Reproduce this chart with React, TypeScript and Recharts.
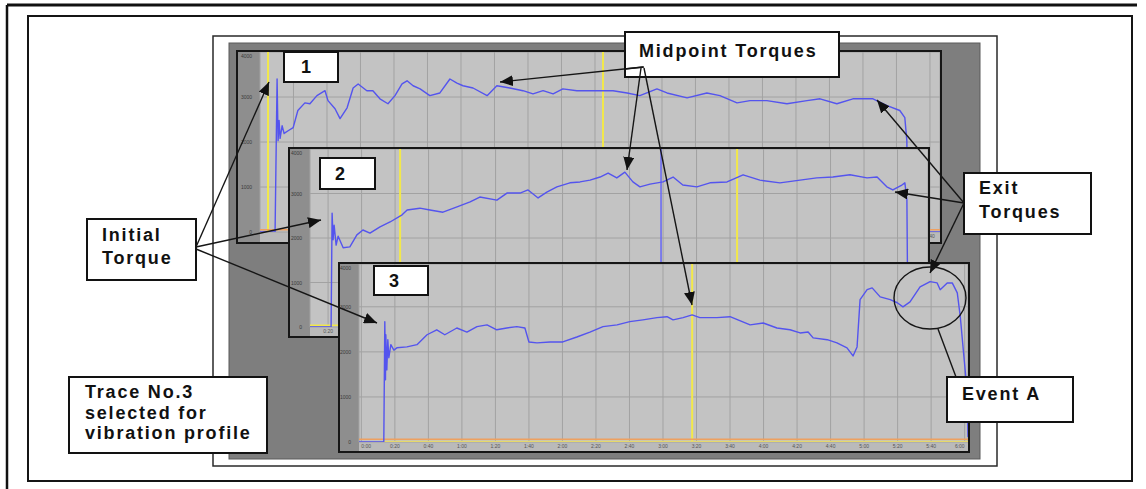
import React from "react";
import { LineChart, Line, XAxis, YAxis, CartesianGrid, ReferenceLine } from "recharts";

// trace 1: time in grid steps (1 step = 20 s), torque in Nm
const trace1Time = [
  0, 0.45, 0.51, 0.54, 0.57, 0.6, 0.66, 0.72, 0.84, 0.99, 1.13, 1.34, 1.49, 1.7, 1.94, 2.03, 2.24, 2.39, 2.6, 2.78,
  2.93, 3.19, 3.37, 3.58, 3.82, 4.03, 4.24, 4.39, 4.57, 4.78, 5.07, 5.37, 5.67, 5.88, 6.06, 6.36, 6.78, 7.07, 7.46, 7.85,
  8.15, 8.45, 8.75, 9.04, 9.46, 9.94, 10.54, 10.96, 11.34, 11.85, 12.15, 12.75, 13.34, 13.73, 14.24, 14.63, 15.13, 15.73,
  16.33, 16.72, 17.22, 17.7, 18.3, 18.72, 19.1, 19.25, 19.31, 19.34, 20.3,
];
const trace1Torque = [
  0, 0, 3400, 2030, 2480, 2080, 2360, 2190, 2250, 2320, 2700, 2870, 2850, 3030, 3140, 2920, 2740, 2520, 2760, 3200,
  3290, 3140, 3140, 2960, 2850, 3030, 3290, 3360, 3250, 3180, 3030, 3090, 3400, 3310, 3250, 3200, 3030, 3250, 3200, 3140,
  3070, 3140, 3070, 3180, 3140, 3140, 3140, 3090, 3030, 3180, 3090, 2980, 3090, 3030, 2870, 2920, 2920, 2850,
  2920, 2960, 2850, 2960, 2960, 2810, 2700, 2540, 2030, 0, 0,
];

const trace2Time = [
  0.46, 1.09, 1.12, 1.15, 1.18, 1.24, 1.3, 1.45, 1.65, 1.86, 2.04, 2.25, 2.55, 2.85, 3.21, 3.36, 3.74, 4.04, 4.43, 4.85,
  5.24, 5.53, 6.04, 6.34, 6.73, 6.97, 7.27, 7.53, 7.83, 8.22, 8.52, 8.82, 9.12, 9.36, 9.62, 9.86, 10.1, 10.31, 10.61, 11.0,
  11.3, 11.59, 12.01, 12.4, 12.91, 13.39, 13.89, 14.49, 15.09, 15.59, 16.07, 16.58, 17.09, 17.39, 17.68, 17.86, 18.13,
  18.22, 18.28, 18.31, 18.91,
];
const trace2Torque = [
  0, 0, 2560, 1960, 2290, 1840, 2040, 1780, 1800, 2070, 2180, 2110, 2250, 2360, 2520, 2630, 2670, 2630, 2580, 2700,
  2810, 2920, 2850, 3010, 3010, 3080, 2900, 3030, 3150, 3240, 3260, 3300, 3370, 3460, 3350, 3480, 3260, 3150, 3210, 3260,
  3370, 3190, 3150, 3240, 3260, 3420, 3300, 3240, 3300, 3350, 3370, 3420, 3350, 3370, 3150, 3080, 3190,
  3240, 2850, 0, 0,
];

const trace3Time = [
  -0.07, 0.67, 0.7, 0.72, 0.73, 0.76, 0.79, 0.82, 0.88, 0.97, 1.06, 1.36, 1.66, 1.96, 2.25, 2.49, 2.85, 3.15, 3.45, 3.75,
  4.04, 4.34, 4.64, 4.88, 5.0, 5.24, 5.63, 6.01, 6.43, 6.82, 7.21, 7.63, 8.01, 8.4, 8.82, 9.12, 9.3, 9.6, 9.87, 10.1,
  10.61, 11.0, 11.6, 11.99, 12.4, 12.79, 13.09, 13.33, 13.48, 13.9, 14.19, 14.49, 14.67, 14.79, 14.88, 15.09, 15.24, 15.48,
  15.78, 15.99, 16.16, 16.37, 16.67, 16.97, 17.18, 17.27, 17.48, 17.63, 17.78, 17.87, 17.96, 18.07, 18.1,
];
const trace3Torque = [
  0, 0, 2670, 1380, 2380, 1600, 2270, 1870, 2160, 2040, 2090, 2110, 2160, 2380, 2490, 2380, 2530, 2440, 2560, 2600,
  2490, 2530, 2560, 2530, 2220, 2200, 2220, 2220, 2330, 2440, 2560, 2600, 2670, 2710, 2760, 2780, 2710, 2760, 2820, 2760,
  2760, 2780, 2600, 2640, 2530, 2490, 2420, 2440, 2310, 2270, 2200, 2090, 1910, 2110, 3160, 3380, 3420, 3220,
  3160, 3090, 3000, 3110, 3440, 3560, 3530, 3380, 3530, 3530, 3310, 2780, 2040, 1160, 110,
];

// flat auxiliary channels along the bottom
const aux1Time = [0, 20.3];
const aux1Level = [50, 50];
const aux2Time = [0.46, 18.91];
const aux2Level = [40, 40];
const aux3OrangeTime = [-0.07, 18.1];
const aux3OrangeLevel = [60, 60];
const aux3YellowTime = [0.67, 18.1];
const aux3YellowLevel = [15, 15];

// cursor positions (grid steps)
const cursors1 = [0.24, 10.24];
const cursors2 = [3.15, 13.21];
const cursors3 = [9.87];
const spike2 = [10.94];

const torqueTicks = [0, 1000, 2000, 3000, 4000];
const ticks1 = Array.from({ length: 20 }, (_, i) => i + 1);
const ticks2 = Array.from({ length: 18 }, (_, i) => i + 1);
const ticks3 = Array.from({ length: 19 }, (_, i) => i);

const zip = (ts: number[], vs: number[]) => ts.map((t, i) => ({ t, v: vs[i] }));
const fmtTime = (u: number) => `${Math.floor(u / 3)}:${String((u % 3) * 20).padStart(2, "0")}`;

const BLUE = "#5454ee";
const YELLOW = "#f2e84a";
const ORANGE = "#eea060";
const FONT = "'Liberation Sans', Arial, sans-serif";

interface Series {
  data: { t: number; v: number }[];
  color: string;
  width: number;
}

interface PanelProps {
  left: number;
  top: number;
  width: number;
  height: number;
  yAxisWidth: number;
  xAxisHeight: number;
  xDomain: [number, number];
  yDomain: [number, number];
  xTicks: number[];
  series: Series[];
  cursors: number[];
  spikes?: number[];
}

function TracePanel(p: PanelProps) {
  const w = p.width - 4;
  const h = p.height - 4;
  const labelY = h - p.xAxisHeight + 6;
  const xTick = (props: any) => {
    const { x, payload } = props;
    // keep the label inside the panel near its edges
    const anchor = x > w - 8 ? "end" : x < p.yAxisWidth + 8 ? "start" : "middle";
    return (
      <text x={x} y={labelY} textAnchor={anchor} fontSize={5} fill="#555" fontFamily={FONT}>
        {fmtTime(payload.value)}
      </text>
    );
  };
  const yTick = (props: any) => {
    const { x, y, payload } = props;
    return (
      <text x={x} y={Math.max(y + 2, 6)} textAnchor="end" fontSize={5} fill="#3a3a3a" fontFamily={FONT}>
        {payload.value}
      </text>
    );
  };
  return (
    <div
      style={{
        position: "absolute",
        left: p.left,
        top: p.top,
        width: p.width,
        height: p.height,
        boxSizing: "border-box",
        border: "2px solid #161616",
        background: "#8e8e8e",
      }}
    >
      <div
        style={{
          position: "absolute",
          left: p.yAxisWidth,
          top: h - p.xAxisHeight,
          width: w - p.yAxisWidth,
          height: p.xAxisHeight,
          background: "#bababa",
        }}
      />
      <LineChart
        width={w}
        height={h}
        margin={{ top: 0, right: 0, bottom: 0, left: 0 }}
        style={{ position: "absolute", left: 0, top: 0 }}
      >
        <CartesianGrid stroke="#a2a2a2" fill="#c3c3c3" fillOpacity={1} />
        <XAxis
          type="number"
          dataKey="t"
          domain={p.xDomain}
          ticks={p.xTicks}
          interval={0}
          allowDataOverflow
          height={p.xAxisHeight}
          tickLine={false}
          axisLine={false}
          tick={xTick}
        />
        <YAxis
          type="number"
          dataKey="v"
          domain={p.yDomain}
          ticks={torqueTicks}
          interval={0}
          allowDataOverflow
          width={p.yAxisWidth}
          tickLine={false}
          axisLine={false}
          tickMargin={2}
          tick={yTick}
        />
        {p.cursors.map((c) => (
          <ReferenceLine key={`c${c}`} x={c} stroke={YELLOW} strokeWidth={2} />
        ))}
        {(p.spikes || []).map((c) => (
          <ReferenceLine key={`s${c}`} x={c} stroke="#6c6cf2" strokeWidth={1.6} />
        ))}
        {p.series.map((s, i) => (
          <Line
            key={i}
            data={s.data}
            dataKey="v"
            type="linear"
            stroke={s.color}
            strokeWidth={s.width}
            strokeLinejoin="round"
            dot={false}
            activeDot={false}
            isAnimationActive={false}
          />
        ))}
      </LineChart>
    </div>
  );
}

function Box({ x, y, w, h, lines, tx, ty, lh }: { x: number; y: number; w: number; h: number; lines: string[]; tx: number; ty: number; lh: number }) {
  return (
    <g>
      <rect x={x} y={y} width={w} height={h} fill="#fff" stroke="#121212" strokeWidth={2} />
      {lines.map((s, i) => (
        <text key={i} x={tx} y={ty + i * lh} fontFamily={FONT} fontWeight="bold" fontSize={18} letterSpacing={1.8} fill="#111">
          {s}
        </text>
      ))}
    </g>
  );
}

function Arrow({ x1, y1, x2, y2, head = true }: { x1: number; y1: number; x2: number; y2: number; head?: boolean }) {
  return (
    <line
      x1={x1}
      y1={y1}
      x2={x2}
      y2={y2}
      stroke="#151515"
      strokeWidth={1.4}
      markerEnd={head ? "url(#head)" : undefined}
    />
  );
}

export default function App() {
  return (
    <div style={{ position: "absolute", left: 0, top: 0, width: 1146, height: 489, background: "#fff", overflow: "hidden" }}>
      <svg width={1146} height={489} style={{ position: "absolute", left: 0, top: 0 }}>
        <line x1={7} y1={5} x2={1137} y2={5} stroke="#111" strokeWidth={3} />
        <line x1={7} y1={5} x2={7} y2={489} stroke="#111" strokeWidth={2.5} />
        <rect x={28} y={16} width={1104} height={465} fill="#fff" stroke="#151515" strokeWidth={2} />
        <rect x={213} y={36} width={784} height={430} fill="#fff" stroke="#2a2a2a" strokeWidth={1.5} />
        <rect x={229} y={43} width={751} height={416} fill="#7e7e7e" stroke="#5a5a5a" strokeWidth={1} />
      </svg>

      <TracePanel
        left={236}
        top={50}
        width={706}
        height={194}
        yAxisWidth={22}
        xAxisHeight={10}
        xDomain={[0, 20.3]}
        yDomain={[0, 4000]}
        xTicks={ticks1}
        cursors={cursors1}
        series={[
          { data: zip(aux1Time, aux1Level), color: ORANGE, width: 1.5 },
          { data: zip(trace1Time, trace1Torque), color: BLUE, width: 1.4 },
        ]}
      />
      <TracePanel
        left={288}
        top={147}
        width={642}
        height={191}
        yAxisWidth={20}
        xAxisHeight={9}
        xDomain={[0.46, 18.91]}
        yDomain={[0, 4000]}
        xTicks={ticks2}
        cursors={cursors2}
        spikes={spike2}
        series={[
          { data: zip(aux2Time, aux2Level), color: YELLOW, width: 1.5 },
          { data: zip(trace2Time, trace2Torque), color: BLUE, width: 1.4 },
        ]}
      />
      <TracePanel
        left={338}
        top={262}
        width={632}
        height={191}
        yAxisWidth={19}
        xAxisHeight={9}
        xDomain={[-0.07, 18.1]}
        yDomain={[0, 3950]}
        xTicks={ticks3}
        cursors={cursors3}
        series={[
          { data: zip(aux3OrangeTime, aux3OrangeLevel), color: ORANGE, width: 1.5 },
          { data: zip(aux3YellowTime, aux3YellowLevel), color: "#e6d86a", width: 1.2 },
          { data: zip(trace3Time, trace3Torque), color: BLUE, width: 1.4 },
        ]}
      />

      <svg width={1146} height={489} style={{ position: "absolute", left: 0, top: 0 }}>
        <defs>
          <marker id="head" markerUnits="userSpaceOnUse" markerWidth={13} markerHeight={11} refX={13} refY={5.5} orient="auto">
            <path d="M0,0 L13,5.5 L0,11 z" fill="#111" />
          </marker>
        </defs>

        <Box x={284} y={52} w={54} h={30} lines={["1"]} tx={301} ty={73} lh={0} />
        <Box x={320} y={158} w={55} h={31} lines={["2"]} tx={335} ty={180} lh={0} />
        <Box x={374} y={266} w={54} h={29} lines={["3"]} tx={389} ty={287} lh={0} />

        <Box x={625} y={32} w={214} h={45} lines={["Midpoint Torques"]} tx={639} ty={57} lh={0} />
        <Box x={87} y={219} w={109} h={61} lines={["Initial", "Torque"]} tx={102} ty={241} lh={23} />
        <Box x={69} y={377} w={198} h={76} lines={["Trace No.3", "selected for", "vibration profile"]} tx={85} ty={398} lh={20.5} />
        <Box x={964} y={173} w={127} h={61} lines={["Exit", "Torques"]} tx={979} ty={194} lh={24} />
        <Box x={947} y={377} w={126} h={45} lines={["Event A"]} tx={962} ty={400} lh={0} />

        <Arrow x1={196} y1={247} x2={269} y2={82} />
        <Arrow x1={196} y1={247} x2={321} y2={220} />
        <Arrow x1={196} y1={249} x2={377} y2={323} />

        <line x1={625} y1={69} x2={644} y2={67} stroke="#151515" strokeWidth={1.4} />
        <Arrow x1={643} y1={67} x2={500} y2={82} />
        <Arrow x1={641} y1={68} x2={627} y2={170} />
        <Arrow x1={644} y1={68} x2={692} y2={305} />

        <Arrow x1={964} y1={203} x2={877} y2={100} />
        <Arrow x1={964} y1={203} x2={895} y2={192} />
        <Arrow x1={964} y1={203} x2={930} y2={273} />

        <ellipse cx={930} cy={298} rx={36} ry={31} fill="none" stroke="#151515" strokeWidth={1.4} />
        <Arrow x1={956} y1={377} x2={938} y2={329} head={false} />
      </svg>
    </div>
  );
}
